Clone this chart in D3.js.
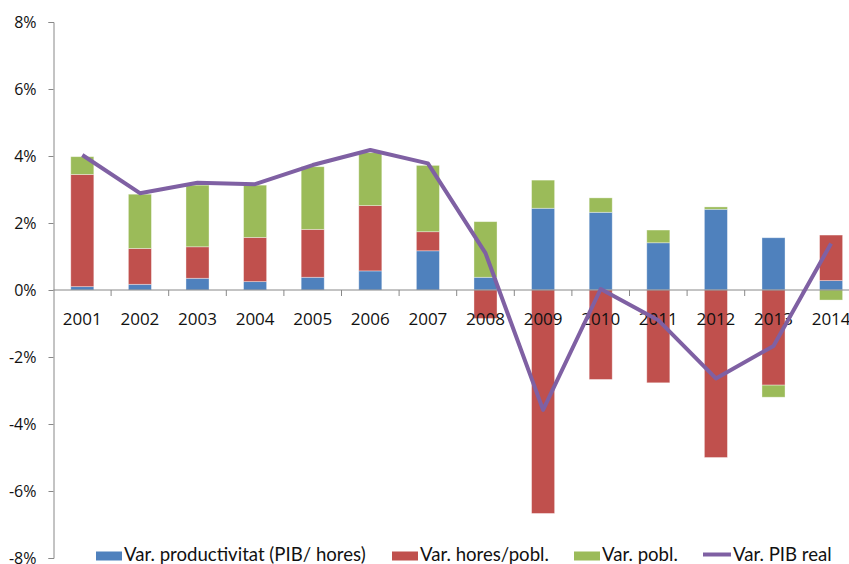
<!DOCTYPE html>
<html>
<head>
<meta charset="utf-8">
<script src="https://cdn.jsdelivr.net/npm/d3@7"></script>
<style>
  body { margin: 0; background: #fff; }
  svg { display: block; }
</style>
</head>
<body>
<svg id="chart" width="849" height="564"></svg>
<script>
// values (%)
const years = ["2001", "2002", "2003", "2004", "2005", "2006", "2007",
  "2008", "2009", "2010", "2011", "2012", "2013", "2014"];
const productivitat = [0.10, 0.17, 0.35, 0.25, 0.38, 0.57, 1.17, 0.38, 2.44, 2.32, 1.41, 2.41, 1.56, 0.28];
const horesPobl = [3.35, 1.07, 0.94, 1.32, 1.43, 1.95, 0.57, -0.85, -6.67, -2.67, -2.77, -5.00, -2.84, 1.36];
const pobl = [0.53, 1.62, 1.84, 1.56, 1.87, 1.58, 1.98, 1.66, 0.84, 0.43, 0.38, 0.07, -0.36, -0.30];
const pibReal = [4.03, 2.89, 3.20, 3.16, 3.73, 4.18, 3.78, 1.10, -3.58, 0.03, -0.90, -2.64, -1.67, 1.39];
const yTicks = [-8, -6, -4, -2, 0, 2, 4, 6, 8];

const seriesNames = ["Var. productivitat (PIB/ hores)", "Var. hores/pobl.", "Var. pobl."];
const seriesKeys = ["prod", "hores", "pobl"];
const colors = ["#4F81BD", "#C0504D", "#9BBB59"];
const lineColor = "#7F60A3";
const lineName = "Var. PIB real";

const svg = d3.select("#chart");

const left = 53.5;
const step = 57.6;

const x = d3.scaleBand()
  .domain(years)
  .range([left, left + step * years.length])
  .paddingInner(0.6)
  .paddingOuter(0.3);

const y = d3.scaleLinear()
  .domain([-8, 8])
  .range([558, 22]);

const rows = years.map((yr, i) => ({
  year: yr,
  prod: productivitat[i],
  hores: horesPobl[i],
  pobl: pobl[i]
}));

const stacked = d3.stack()
  .keys(seriesKeys)
  .offset(d3.stackOffsetDiverging)(rows);

// bars
const layers = svg.append("g").attr("class", "bars")
  .selectAll("g")
  .data(stacked)
  .join("g")
  .attr("fill", (d, i) => colors[i]);

layers.selectAll("rect")
  .data(d => d)
  .join("rect")
  .attr("x", d => x(d.data.year))
  .attr("width", x.bandwidth())
  .attr("y", d => y(Math.max(d[0], d[1])))
  .attr("height", d => Math.abs(y(d[0]) - y(d[1])))
  .attr("stroke", "rgba(255,255,255,0.45)")
  .attr("stroke-width", 0.8);

// y axis
const yAxis = svg.append("g")
  .attr("transform", `translate(${left},0)`)
  .call(d3.axisLeft(y)
    .tickValues(yTicks)
    .tickSize(5)
    .tickPadding(12)
    .tickFormat(d => d + "%"));
yAxis.select(".domain").attr("stroke", "#888");
yAxis.selectAll(".tick line").attr("stroke", "#888");
yAxis.selectAll("text")
  .attr("fill", "#111")
  .style("font-family", "'Open Sans', sans-serif")
  .style("font-size", "16px");

// x axis along zero
const xAxis = svg.append("g")
  .attr("transform", `translate(0,${y(0)})`)
  .call(d3.axisBottom(x).tickSize(0).tickPadding(23));
xAxis.select(".domain")
  .attr("d", `M${left},0H849`)
  .attr("stroke", "#888");
xAxis.selectAll("text")
  .attr("fill", "#111")
  .style("font-family", "'Open Sans', sans-serif")
  .style("font-size", "17px");

// category separator ticks
xAxis.selectAll(".sep")
  .data(years)
  .join("line")
  .attr("class", "sep")
  .attr("x1", d => x(d) + x.bandwidth() / 2 + x.step() / 2)
  .attr("x2", d => x(d) + x.bandwidth() / 2 + x.step() / 2)
  .attr("y1", 0)
  .attr("y2", 6)
  .attr("stroke", "#888");

// line series
const line = d3.line()
  .x((d, i) => x(years[i]) + x.bandwidth() / 2)
  .y(d => y(d));

svg.append("path")
  .datum(pibReal)
  .attr("fill", "none")
  .attr("stroke", lineColor)
  .attr("stroke-width", 4)
  .attr("stroke-linejoin", "round")
  .attr("d", line);

// legend
const legendX = [96, 392, 574];
const legend = svg.append("g")
  .style("font-family", "Lato, sans-serif")
  .style("font-size", "18.6px")
  .attr("fill", "#111");

seriesNames.forEach((name, i) => {
  legend.append("rect")
    .attr("x", legendX[i])
    .attr("y", 551.5)
    .attr("width", 26)
    .attr("height", 9)
    .attr("fill", colors[i]);
  legend.append("text")
    .attr("x", legendX[i] + 28)
    .attr("y", 561)
    .text(name);
});

legend.append("line")
  .attr("x1", 703)
  .attr("x2", 731)
  .attr("y1", 554.5)
  .attr("y2", 554.5)
  .attr("stroke", lineColor)
  .attr("stroke-width", 4);
legend.append("text")
  .attr("x", 733)
  .attr("y", 561)
  .text(lineName);
</script>
</body>
</html>
